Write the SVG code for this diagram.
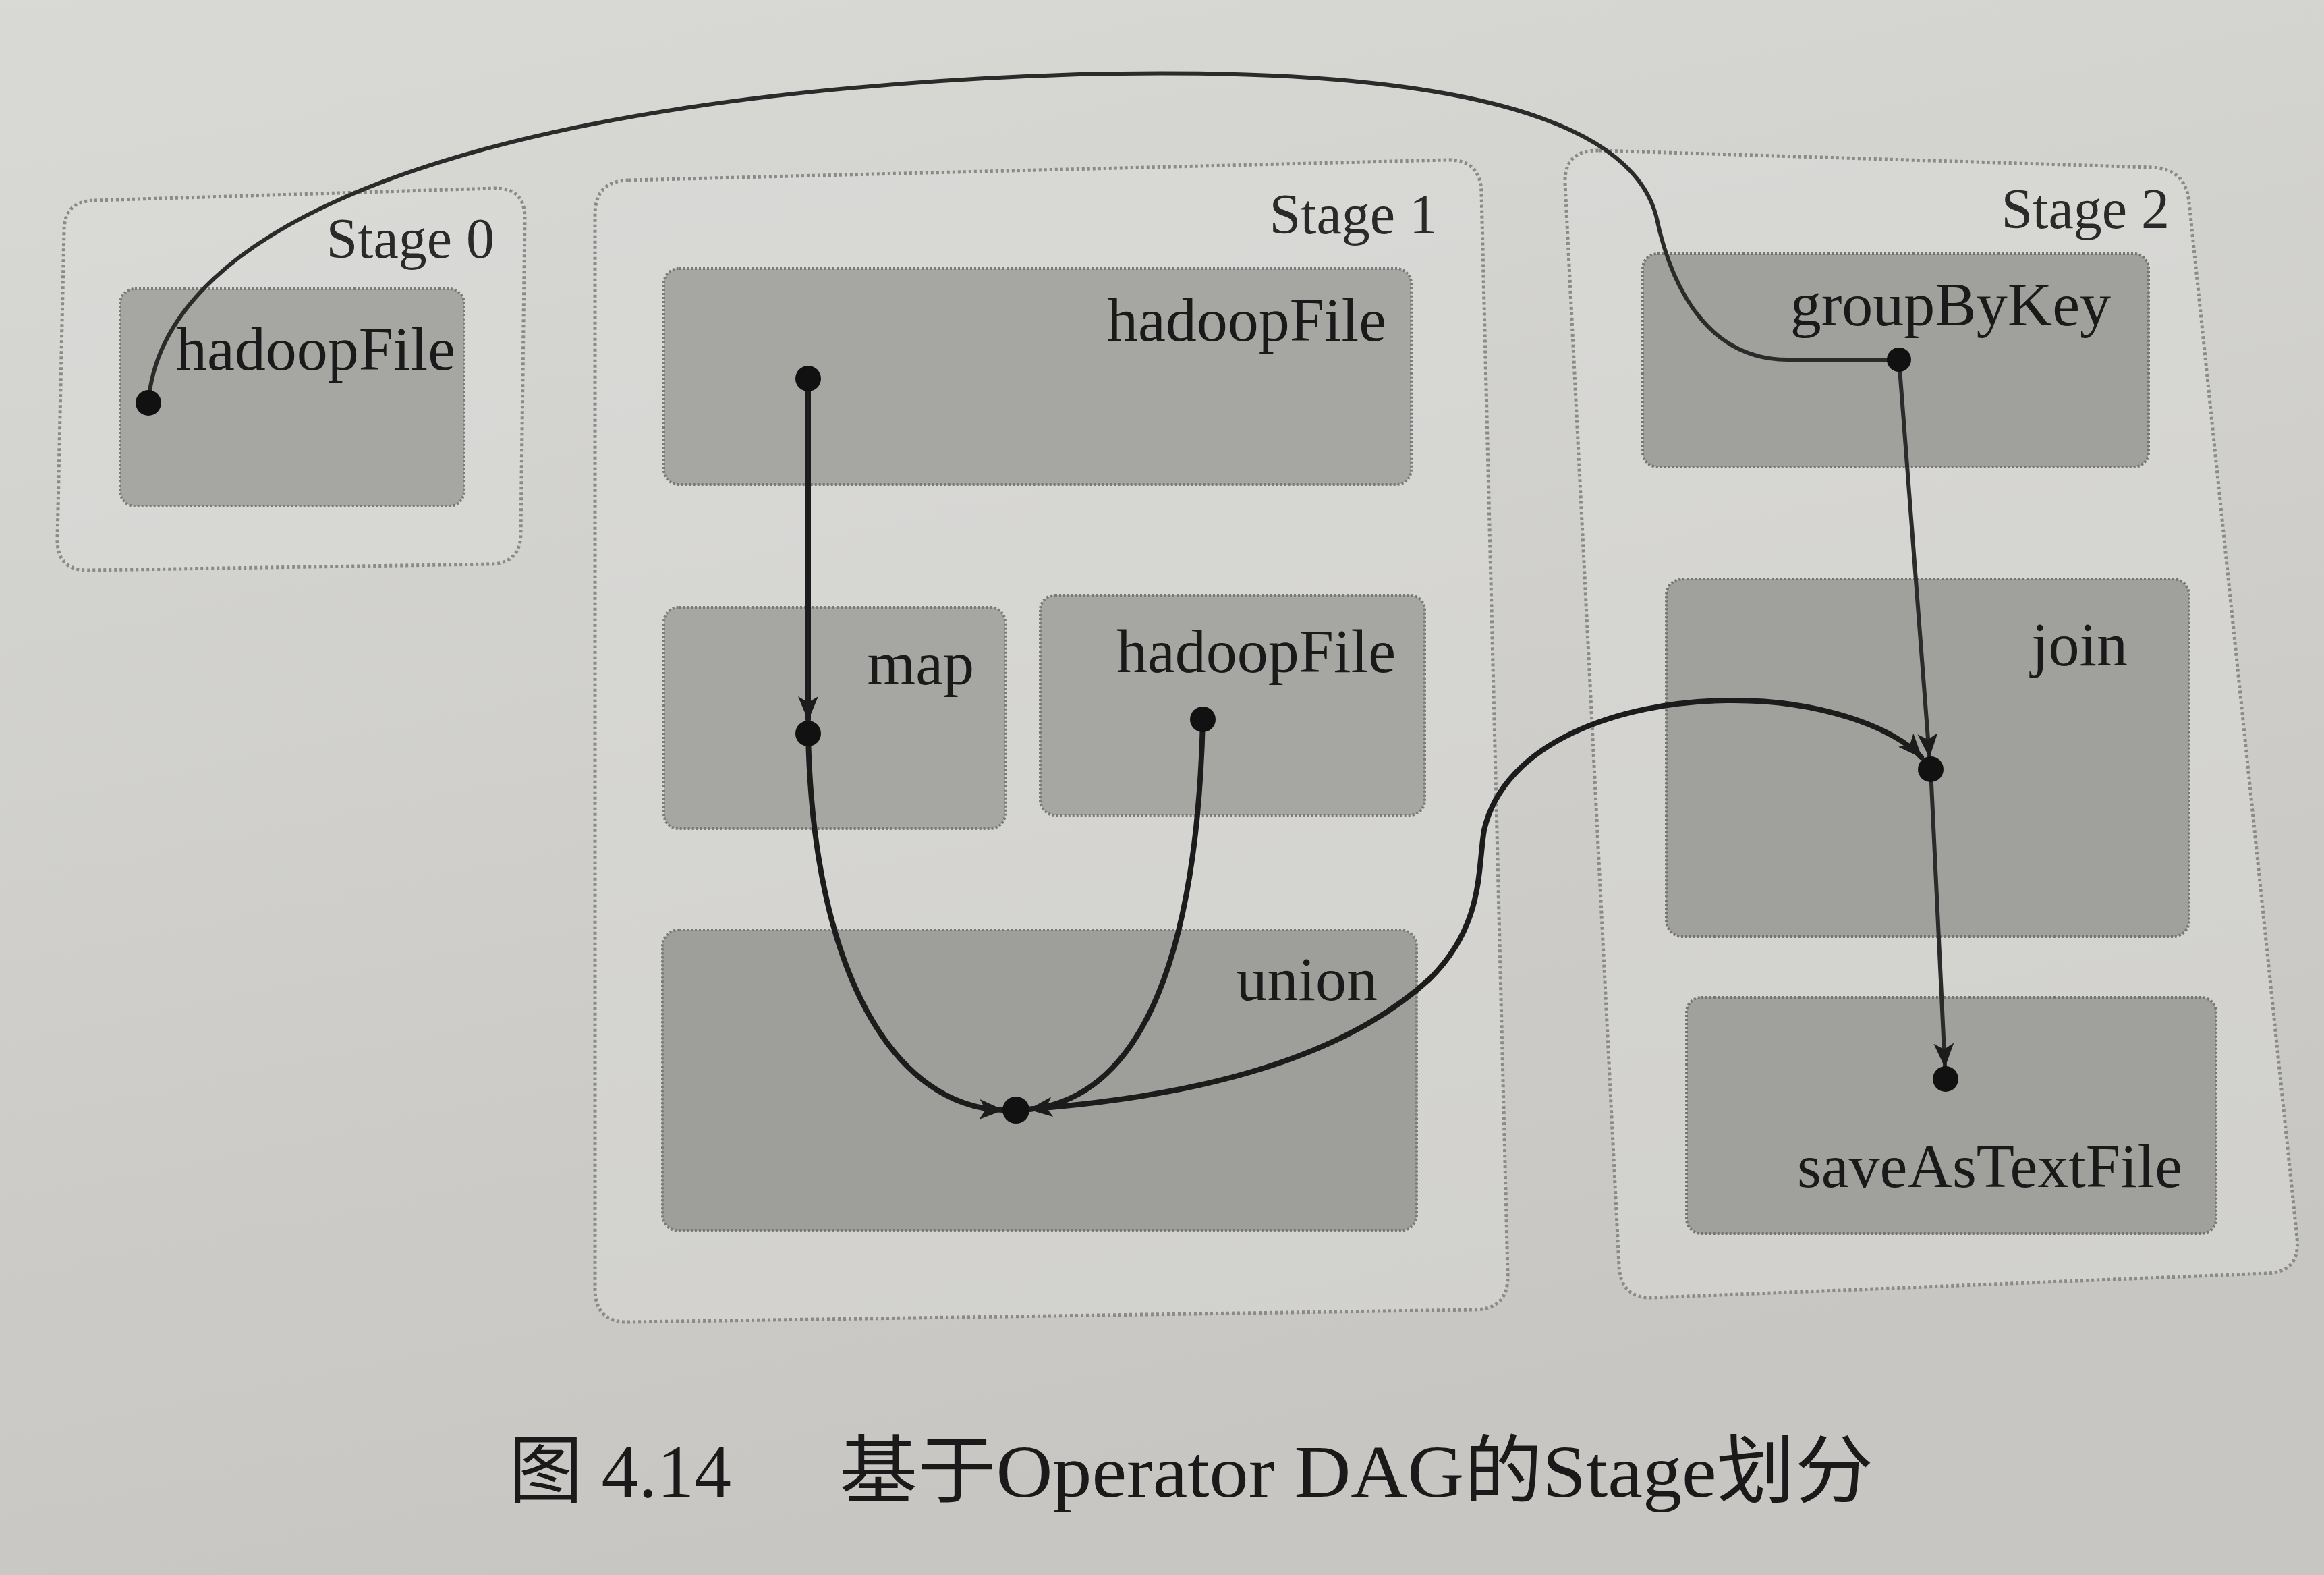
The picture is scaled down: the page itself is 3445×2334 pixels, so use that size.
<svg xmlns="http://www.w3.org/2000/svg" width="3445" height="2334" viewBox="0 0 3445 2334">
<defs>
  <linearGradient id="bg" x1="0" y1="0" x2="0.3" y2="1">
    <stop offset="0" stop-color="#d9d9d6"/>
    <stop offset="1" stop-color="#c7c6c2"/>
  </linearGradient>
  <marker id="arr" markerUnits="userSpaceOnUse" markerWidth="36" markerHeight="30" viewBox="0 0 36 30" refX="34" refY="15" orient="auto">
    <path d="M0,0 L36,15 L0,30 L9,15 Z" fill="#1c1c1c"/>
  </marker>
  <style>
    .stage { fill: #dcdcd9; fill-opacity: 0.5; stroke: #8a8a88; stroke-width: 5; stroke-dasharray: 4 4; }
    .node { fill: #a6a6a3; stroke: #7a7a78; stroke-width: 4; stroke-dasharray: 3 3; }
    .node2 { fill: #a0a09d; stroke: #747472; stroke-width: 4; stroke-dasharray: 3 3; }
    .slabel { font-family: "Liberation Serif", "Times New Roman", serif; font-size: 84px; fill: #2a2a2a; text-anchor: end; }
    .nlabel { font-family: "Liberation Serif", "Times New Roman", serif; font-size: 92px; fill: #1a1a1a; text-anchor: end; }
    .edge { fill: none; stroke: #1c1c1c; stroke-width: 8; stroke-linecap: round; }
    .edge-thin { fill: none; stroke: #2b2b2b; stroke-width: 6; stroke-linecap: round; }
    .dot { fill: #111; }
    .cap { font-family: "Liberation Serif", "Noto Sans CJK SC", serif; font-size: 110px; fill: #1a1a1a; }
  </style>
</defs>
<rect x="0" y="0" width="3445" height="2334" fill="url(#bg)"/>

<g id="stage0">
  <path class="stage" d="M140,297 L733,279 Q778,278 778,323 L772,790 Q772,835 727,836 L130,845 Q85,845 85,800 L95,342 Q95,298 140,297 Z"/>
  <text class="slabel" x="733" y="382">Stage 0</text>
</g>
<g id="stage1">
  <path class="stage" d="M932,267 L2145,237 Q2195,236 2196,286 L2235,1890 Q2236,1940 2186,1941 L932,1959 Q882,1960 882,1910 L882,318 Q882,268 932,267 Z"/>
  <text class="slabel" x="2131" y="346">Stage 1</text>
</g>
<g id="stage2">
  <path class="stage" d="M2370,223 L3190,248 Q3240,250 3245,300 L3405,1835 Q3410,1885 3360,1887 L2450,1923 Q2402,1925 2400,1875 L2320,272 Q2318,222 2370,223 Z"/>
  <text class="slabel" x="3216" y="338">Stage 2</text>
</g>

<g id="s0-hadoopFile">
  <rect class="node" x="178" y="428" width="510" height="322" rx="22"/>
  <text class="nlabel" x="675" y="548">hadoopFile</text>
</g>
<g id="s1-hadoopFile-top">
  <rect class="node" x="984" y="398" width="1108" height="320" rx="22"/>
  <text class="nlabel" x="2055" y="505">hadoopFile</text>
</g>
<g id="s1-map">
  <rect class="node" x="984" y="900" width="506" height="328" rx="22"/>
  <text class="nlabel" x="1444" y="1014">map</text>
</g>
<g id="s1-hadoopFile-mid">
  <rect class="node" x="1542" y="882" width="570" height="326" rx="22"/>
  <text class="nlabel" x="2069" y="996">hadoopFile</text>
</g>
<g id="s1-union">
  <rect class="node" x="982" y="1378" width="1118" height="446" rx="24" style="fill:#9e9e9b"/>
  <text class="nlabel" x="2042" y="1482">union</text>
</g>
<g id="s2-groupByKey">
  <rect class="node2" x="2435" y="376" width="750" height="316" rx="22"/>
  <text class="nlabel" x="3129" y="482">groupByKey</text>
</g>
<g id="s2-join">
  <rect class="node2" x="2470" y="858" width="775" height="530" rx="24"/>
  <text class="nlabel" x="3154" y="986">join</text>
</g>
<g id="s2-saveAsTextFile">
  <rect class="node2" x="2500" y="1478" width="785" height="350" rx="22"/>
  <text class="nlabel" x="3235" y="1759">saveAsTextFile</text>
</g>

<g id="connectors">
  <path class="edge-thin" d="M220,597 C240,330 700,140 1600,110 C2200,95 2420,190 2455,320 C2480,440 2540,533 2650,533 L2815,533"/>
  <path class="edge" d="M1198,561 L1198,1066" marker-end="url(#arr)"/>
  <path class="edge" d="M1198,1087 C1205,1450 1330,1640 1486,1645" marker-end="url(#arr)"/>
  <path class="edge" d="M1783,1066 C1775,1400 1700,1625 1526,1644" marker-end="url(#arr)"/>
  <path class="edge" d="M1506,1645 C1800,1625 2000,1560 2120,1450 C2200,1370 2190,1290 2200,1230 C2230,1100 2400,1040 2560,1038 C2700,1036 2810,1080 2848,1122" marker-end="url(#arr)"/>
  <path class="edge-thin" d="M2815,533 L2860,1121" marker-end="url(#arr)"/>
  <path class="edge-thin" d="M2862,1140 L2883,1580" marker-end="url(#arr)"/>
  <circle class="dot" cx="220" cy="597" r="19"/>
  <circle class="dot" cx="1198" cy="561" r="19"/>
  <circle class="dot" cx="1198" cy="1087" r="19"/>
  <circle class="dot" cx="1783" cy="1066" r="19"/>
  <circle class="dot" cx="1506" cy="1645" r="20"/>
  <circle class="dot" cx="2815" cy="533" r="18"/>
  <circle class="dot" cx="2862" cy="1140" r="19"/>
  <circle class="dot" cx="2884" cy="1599" r="19"/>
</g>

<g id="caption">
  <text class="cap" x="754" y="2218">图 4.14</text>
  <text class="cap" x="1244" y="2218" textLength="1533" lengthAdjust="spacingAndGlyphs">基于Operator DAG的Stage划分</text>
</g>
</svg>
